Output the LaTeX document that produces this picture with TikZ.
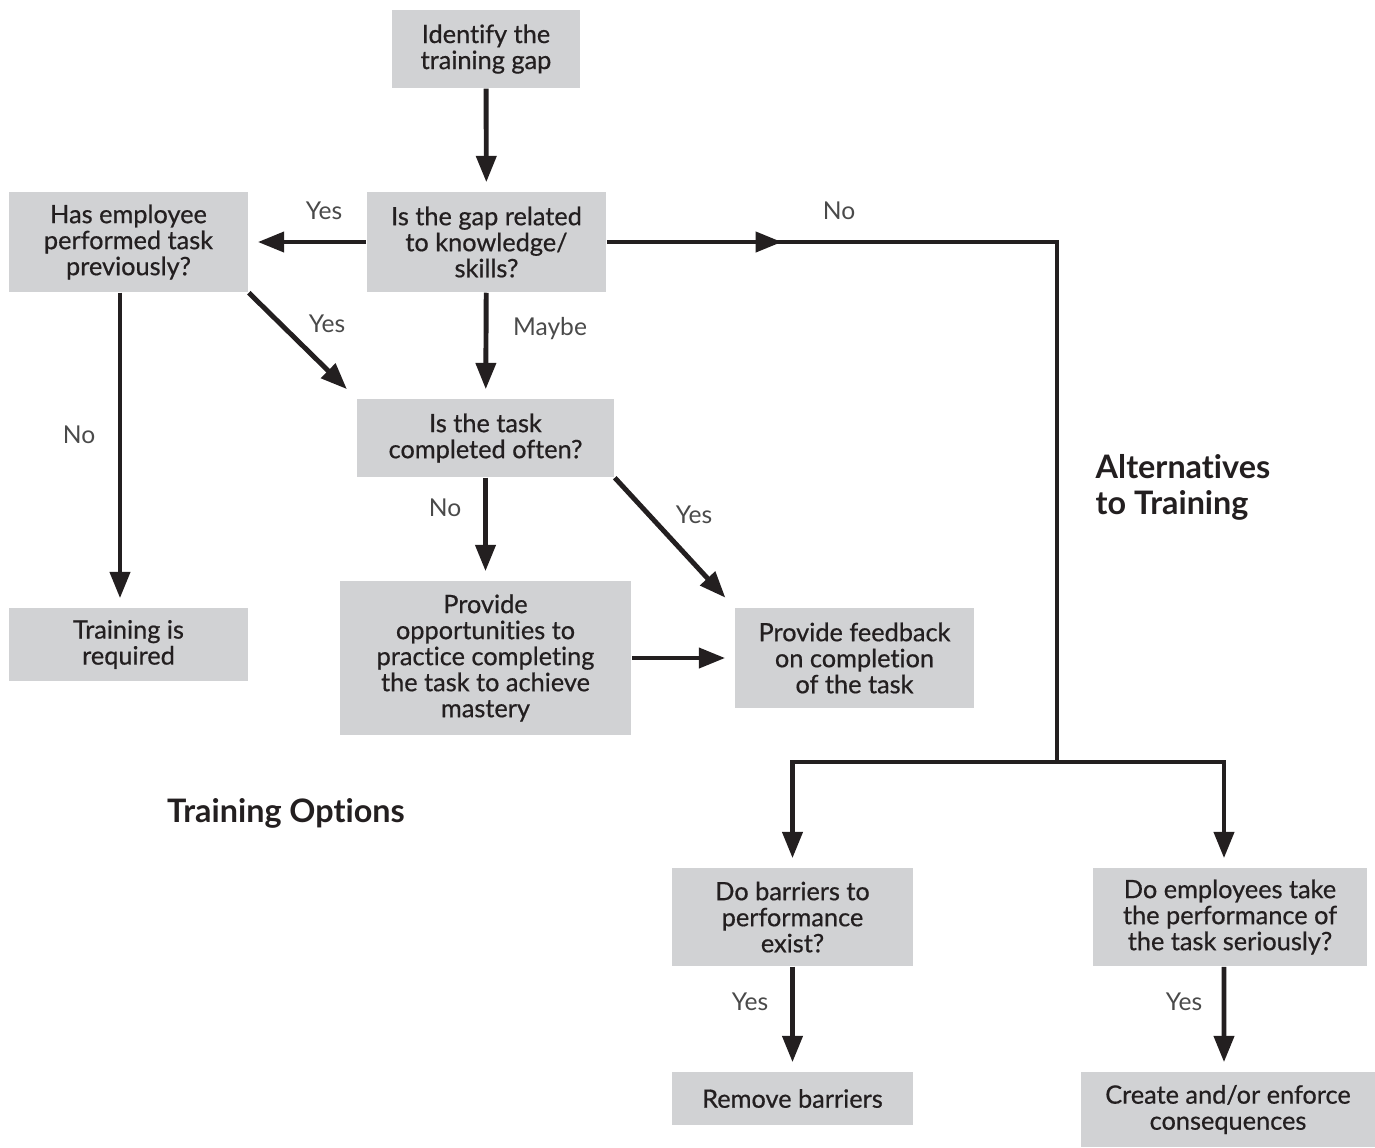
\documentclass[tikz,border=0pt]{standalone}
\usepackage{fontspec}
\setmainfont{Lato}[Ligatures=NoCommon]
\newfontfamily\boxfont{Lato}[FakeBold=0.6, Ligatures=NoCommon]
\usetikzlibrary{arrows.meta}
\definecolor{boxgray}{HTML}{D1D2D4}
\definecolor{ink}{HTML}{231F20}
\definecolor{lblgray}{HTML}{4A4A4A}

\begin{document}
\begin{tikzpicture}[x=0.01cm, y=-0.01cm,
    box/.style={fill=boxgray, text=ink, align=center, inner sep=0pt,
      font=\boxfont\fontsize{7.2}{7.4}\selectfont},
    flow/.style={draw=ink, line width=1.4pt,
      -{Triangle[length=7.5pt,width=5.6pt]}, shorten >=0.09cm},
    wire/.style={draw=ink, line width=1.4pt},
    lbl/.style={text=lblgray, inner sep=0pt, font=\fontsize{7}{8}\selectfont},
    heading/.style={text=ink, align=left, inner sep=0pt,
      font=\bfseries\fontsize{9.2}{10.3}\selectfont}]
      \useasboundingbox (0,0) rectangle (1375,1147);

      % boxes
      \node[box, minimum width=1.88cm, minimum height=0.78cm] (gap) at (486,49) {Identify the\\training gap};
      \node[box, minimum width=2.39cm, minimum height=1.00cm] (related) at (486.5,242) {Is the gap related\\to knowledge/\\skills?};
      \node[box, minimum width=2.39cm, minimum height=1.00cm] (previous) at (128.5,242) {Has employee\\performed task\\previously?};
      \node[box, minimum width=2.57cm, minimum height=0.78cm] (often) at (485.5,438) {Is the task\\completed often?};
      \node[box, minimum width=2.39cm, minimum height=0.73cm] (required) at (128.5,644.5) {Training is\\required};
      \node[box, minimum width=2.91cm, minimum height=1.54cm] (practice) at (485.5,658) {Provide\\opportunities to\\practice completing\\the task to achieve\\mastery};
      \node[box, minimum width=2.39cm, minimum height=1.00cm] (feedback) at (854.5,658) {Provide feedback\\on completion\\of the task};
      \node[box, minimum width=2.41cm, minimum height=0.98cm] (barriers) at (792.5,917) {Do barriers to\\performance\\exist?};
      \node[box, minimum width=2.74cm, minimum height=0.98cm] (serious) at (1230,917) {Do employees take\\the performance of\\the task seriously?};
      \node[box, minimum width=2.41cm, minimum height=0.53cm] (remove) at (792.5,1098.5) {Remove barriers};
      \node[box, minimum width=2.94cm, minimum height=0.75cm] (conseq) at (1228,1109.5) {Create and/or enforce\\consequences};

      % labels
      \node[lbl] (yesprev) at (324,211) {Yes};
      \node[lbl] (noalt) at (839,211) {No};
      \node[lbl] (yesdiag) at (327,324) {Yes};
      \node[lbl] (maybe) at (550,329) {Maybe};
      \node[lbl] (noreq) at (79,435) {No};
      \node[lbl] (nopractice) at (445,508) {No};
      \node[lbl] (yesfeed) at (694,515) {Yes};
      \node[lbl] (yesremove) at (750,1002) {Yes};
      \node[lbl] (yesconseq) at (1184,1002) {Yes};
      \node[heading, anchor=west] (alt) at (1095,487) {Alternatives\\to Training};
      \node[heading] (options) at (286,813) {Training Options};

      \coordinate (nomid) at (782,242);
      \coordinate (split) at (1057,762);

      % connectors
      \draw[flow] (gap) -- (related);
      \draw[flow] (related) -- (previous);
      \draw[flow] (related) -- (often);
      \draw[flow, shorten >=0.13cm] (previous.south east) -- (often.north west);
      \draw[flow] ([xshift=-0.085cm]previous.south) -- ([xshift=-0.085cm]required.north);
      \draw[flow] (often) -- (practice);
      \draw[flow, shorten >=0.13cm] (often.south east) -- (feedback.north west);
      \draw[flow] (practice) -- (feedback);
      \draw[wire] (related) -| (split);
      \draw[flow, shorten >=0pt] (related) -- (nomid);
      \draw[flow] (split) -| (barriers.north);
      \draw[flow] (split) -| ([xshift=-0.06cm]serious.north);
      \draw[flow] (barriers) -- (remove);
      \draw[flow] ([xshift=-0.06cm]serious.south) -- ([xshift=-0.04cm]conseq.north);

   \end{tikzpicture}
\end{document}
